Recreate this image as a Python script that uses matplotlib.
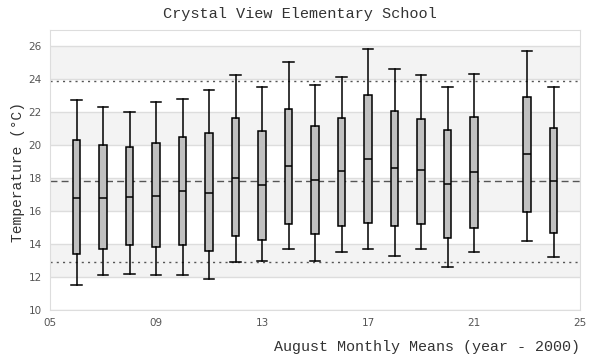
import matplotlib
matplotlib.use("Agg")
import matplotlib.pyplot as plt

years = [6, 7, 8, 9, 10, 11, 12, 13, 14, 15, 16, 17, 18, 19, 20, 21, 23, 24]
whislo = [11.49, 12.10, 12.16, 12.10, 12.10, 11.86, 12.89, 12.95, 13.68, 12.95, 13.50, 13.68, 13.25, 13.68, 12.59, 13.50, 14.16, 13.19]
q1     = [13.37, 13.68, 13.92, 13.80, 13.92, 13.56, 14.47, 14.28, 15.25, 14.59, 15.07, 15.31, 15.13, 15.25, 14.35, 14.95, 15.98, 14.65]
med    = [16.83, 16.83, 16.89, 16.95, 17.25, 17.13, 18.04, 17.56, 18.77, 17.92, 18.41, 19.19, 18.65, 18.47, 17.68, 18.35, 19.50, 17.86]
q3     = [20.34, 20.04, 19.92, 20.14, 20.53, 20.77, 21.68, 20.89, 22.22, 21.19, 21.68, 23.07, 22.10, 21.62, 20.95, 21.74, 22.95, 21.07]
whishi = [22.77, 22.34, 22.04, 22.65, 22.83, 23.37, 24.28, 23.56, 25.07, 23.68, 24.16, 25.86, 24.63, 24.28, 23.56, 24.34, 25.74, 23.56]

upper_ref = 23.88
lower_ref = 12.89
mean_ref = 17.86

xticks = [5, 9, 13, 17, 21, 25]
xticklabels = ["05", "09", "13", "17", "21", "25"]
yticks = [10, 12, 14, 16, 18, 20, 22, 24, 26]

mono = "Liberation Mono"

fig = plt.figure(figsize=(6, 3.6), dpi=100)
ax = fig.add_axes([50/600, 1 - 310/360, 530/600, 280/360])
ax.set_xlim(5, 25)
ax.set_ylim(10, 27)

for lo in [12, 16, 20, 24]:
    ax.axhspan(lo, lo + 2, color="#f3f3f3", zorder=0, lw=0)
for y in yticks:
    ax.axhline(y, color="#dddddd", lw=1, zorder=0.5)

ax.axhline(upper_ref, color="#555555", lw=1, ls=(0, (1.5, 3)), zorder=1)
ax.axhline(lower_ref, color="#555555", lw=1, ls=(0, (1.5, 3)), zorder=1)
ax.axhline(mean_ref, color="#555555", lw=1, ls=(0, (5, 3)), zorder=1)

stats = []
for i in range(len(years)):
    stats.append(dict(whislo=whislo[i], q1=q1[i], med=med[i], q3=q3[i], whishi=whishi[i], fliers=[]))

ax.bxp(stats, positions=years, widths=0.3, capwidths=0.38, patch_artist=True,
       showfliers=False, manage_ticks=False,
       boxprops=dict(facecolor="#c0c0c0", edgecolor="black", lw=1.1),
       medianprops=dict(color="black", lw=1.1),
       whiskerprops=dict(color="black", lw=1.1),
       capprops=dict(color="black", lw=1.1), zorder=3)

ax.set_xticks(xticks)
ax.set_xticklabels(xticklabels)
ax.set_yticks(yticks)
ax.tick_params(length=0, labelsize=7.5, labelcolor="#555555", pad=6)
for s in ax.spines.values():
    s.set_color("#dddddd")

fig.text(0.5, 1 - 14/360, "Crystal View Elementary School", ha="center", va="center",
         family=mono, fontsize=11, color="#333333")
fig.text(580/600, 1 - 347/360, "August Monthly Means (year - 2000)", ha="right", va="center",
         family=mono, fontsize=10.8, color="#333333")
fig.text(18/600, 1 - 172/360, "Temperature (°C)", ha="center", va="center", rotation=90,
         family=mono, fontsize=10.5, color="#333333")

fig.savefig("out.png", dpi=100)
